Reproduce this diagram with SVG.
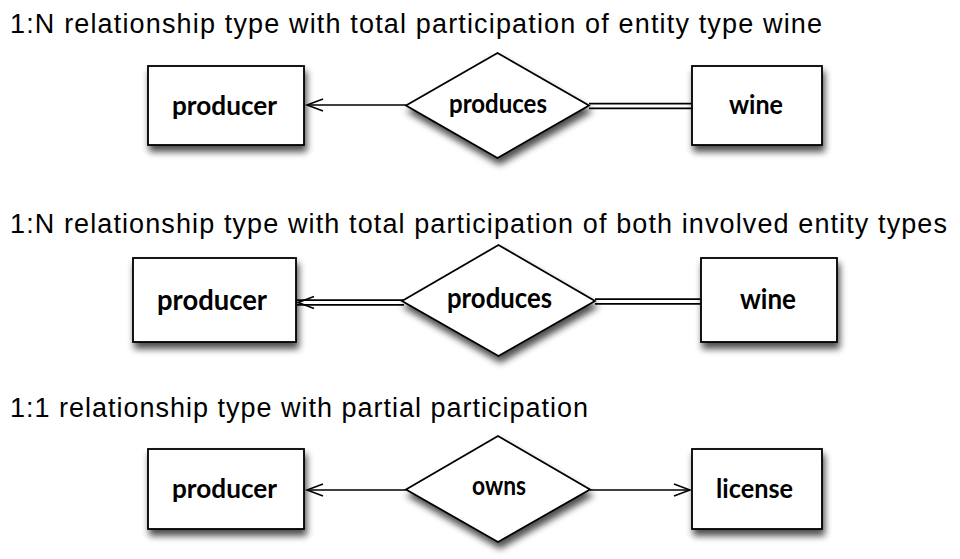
<svg xmlns="http://www.w3.org/2000/svg" width="960" height="559" viewBox="0 0 960 559">
<style>
.title{font-family:"Liberation Sans",Arial,sans-serif;font-size:27px;fill:#000}
.lbl{font-family:Lato,"Liberation Sans",sans-serif;font-weight:700;font-size:27px;fill:#000}
.lbl2{font-family:Lato,"Liberation Sans",sans-serif;font-weight:700;font-size:28px;fill:#000}
.shape{fill:#fff;stroke:#000;stroke-width:1.8;filter:url(#sh)}
.line{fill:none;stroke:#000;stroke-width:1.5}
.dbl{fill:none;stroke:#000;stroke-width:6.5}
.dblin{fill:none;stroke:#fff;stroke-width:3}
.carrier{fill:none;stroke:none}
</style>
<defs>
<filter id="sh" x="-20%" y="-20%" width="150%" height="160%">
<feGaussianBlur in="SourceAlpha" stdDeviation="3.5"/>
<feOffset dx="2" dy="6" result="b"/>
<feComponentTransfer><feFuncA type="linear" slope="0.7"/></feComponentTransfer>
<feMerge><feMergeNode/><feMergeNode in="SourceGraphic"/></feMerge>
</filter>
<marker id="arr" markerUnits="userSpaceOnUse" markerWidth="20" markerHeight="16" refX="16" refY="8" orient="auto" overflow="visible">
<path d="M0,2 L16,8 L0,14" fill="none" stroke="#000" stroke-width="1.5"/>
</marker>
</defs>
<rect width="960" height="559" fill="#fff"/>

<text class="title" x="10" y="33" textLength="812" lengthAdjust="spacing">1:N relationship type with total participation of entity type wine</text>
<text class="title" x="10" y="233" textLength="937" lengthAdjust="spacing">1:N relationship type with total participation of both involved entity types</text>
<text class="title" x="10" y="417" textLength="578" lengthAdjust="spacing">1:1 relationship type with partial participation</text>

<g id="connectors">
<path class="line" d="M406,105 L307,105" marker-end="url(#arr)"/>
<path class="dbl" d="M589,106 L692,106"/>
<path class="dblin" d="M586,106 L693,106"/>
<path class="dbl" d="M404,302.5 L297,302.5"/>
<path class="dblin" d="M406,302.5 L295,302.5"/>
<path class="carrier" d="M330,302.5 L298,302.5" marker-end="url(#arr)"/>
<path class="dbl" d="M595,301.5 L701,301.5"/>
<path class="dblin" d="M592,301.5 L702,301.5"/>
<path class="line" d="M406,490 L307,490" marker-end="url(#arr)"/>
<path class="line" d="M590,490 L690,490" marker-end="url(#arr)"/>
</g>

<g id="producer1">
<rect class="shape" x="148" y="66" width="156" height="79"/>
<text class="lbl" x="172" y="115" textLength="105" lengthAdjust="spacingAndGlyphs">producer</text>
</g>
<g id="produces1">
<polygon class="shape" points="406,105.5 497.5,53 589,105.5 497.5,158"/>
<text class="lbl" x="449" y="113" textLength="98" lengthAdjust="spacingAndGlyphs">produces</text>
</g>
<g id="wine1">
<rect class="shape" x="692" y="66" width="130" height="79"/>
<text class="lbl" x="729" y="114" textLength="54" lengthAdjust="spacingAndGlyphs">wine</text>
</g>

<g id="producer2">
<rect class="shape" x="133" y="258" width="163" height="84"/>
<text class="lbl2" x="157" y="310" textLength="110" lengthAdjust="spacingAndGlyphs">producer</text>
</g>
<g id="produces2">
<polygon class="shape" points="402,301 498.5,245 595,301 498.5,356"/>
<text class="lbl2" x="447" y="308" textLength="105" lengthAdjust="spacingAndGlyphs">produces</text>
</g>
<g id="wine2">
<rect class="shape" x="701" y="258" width="136" height="84"/>
<text class="lbl2" x="740" y="309" textLength="56" lengthAdjust="spacingAndGlyphs">wine</text>
</g>

<g id="producer3">
<rect class="shape" x="148" y="449" width="156" height="80"/>
<text class="lbl" x="172" y="498" textLength="105" lengthAdjust="spacingAndGlyphs">producer</text>
</g>
<g id="owns">
<polygon class="shape" points="406,489.5 498,436 590,489.5 498,542"/>
<text class="lbl" x="472" y="495" textLength="54" lengthAdjust="spacingAndGlyphs">owns</text>
</g>
<g id="license">
<rect class="shape" x="692" y="449" width="130" height="80"/>
<text class="lbl" x="716" y="498" textLength="77" lengthAdjust="spacingAndGlyphs">license</text>
</g>
</svg>
